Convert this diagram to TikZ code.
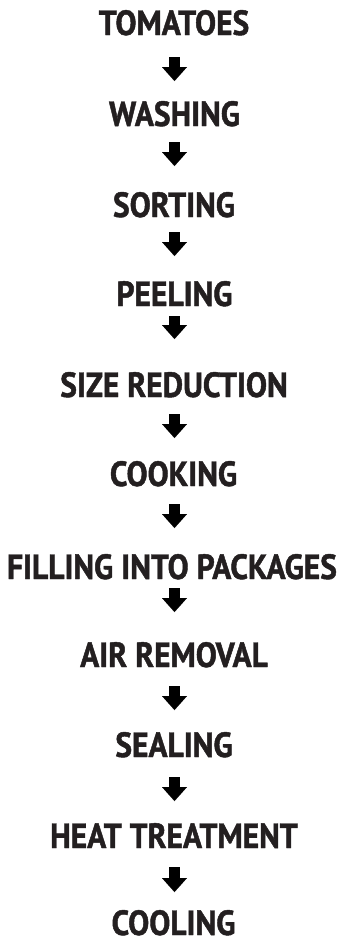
\documentclass[tikz,border=0pt]{standalone}
\usepackage{fontspec}
\setmainfont{PT Sans}[FakeStretch=0.9,BoldFeatures={FakeBold=1.3}]
\usetikzlibrary{arrows.meta}
\definecolor{ink}{HTML}{231F20}
\tikzset{
  stage/.style={anchor=base, inner sep=0pt, text=ink, font=\fontsize{35}{35}\selectfont\bfseries},
  flow/.style={line width=11.5pt, black, -{Triangle[width=25pt,length=14pt,line width=0.01pt]}}
}
\begin{document}
\begin{tikzpicture}[x=1pt,y=-1pt]
\useasboundingbox (0,0) rectangle (340,940);
\node[stage] (t1) at (174,35) {TOMATOES};
\node[stage] (t2) at (174.5,126) {WASHING};
\node[stage] (t3) at (174,217) {SORTING};
\node[stage] (t4) at (174.5,306) {PEELING};
\node[stage] (t5) at (174,397) {SIZE REDUCTION};
\node[stage] (t6) at (173.5,486) {COOKING};
\node[stage] (t7) at (172,579) {FILLING INTO PACKAGES};
\node[stage] (t8) at (174,667) {AIR REMOVAL};
\node[stage] (t9) at (174,757) {SEALING};
\node[stage] (t10) at (174,848) {HEAT TREATMENT};
\node[stage] (t11) at (173.5,935) {COOLING};
\foreach \i/\a/\b in {1/57/81,2/142/166,3/232/256,4/316/339,5/414/438,6/504/528,7/588/612,8/686/710,9/777/801,10/867/892}{
  \coordinate (s\i) at (174.5,\a);
  \coordinate (e\i) at (174.5,\b);
  \draw[flow] (s\i) -- (e\i);
}
\end{tikzpicture}
\end{document}
